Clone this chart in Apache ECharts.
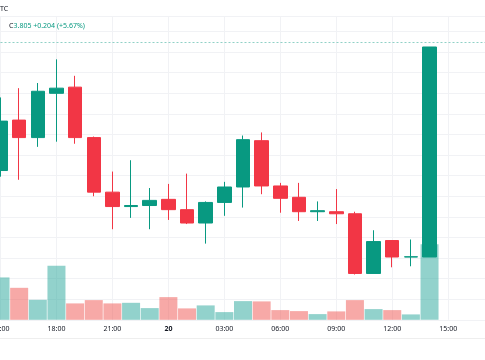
<!DOCTYPE html>
<html><head><meta charset="utf-8">
<script src="https://cdn.jsdelivr.net/npm/echarts@6/dist/echarts.min.js"></script>
<style>html,body{margin:0;padding:0;background:#fff}#c{width:485px;height:360px}</style>
</head><body><div id="c"></div>
<script>
// hourly candles, 19th 15:00 .. 20th 14:00
const hours = ['15:00','16:00','17:00','18:00','19:00','20:00','21:00','22:00','23:00','00:00','01:00','02:00',
  '03:00','04:00','05:00','06:00','07:00','08:00','09:00','10:00','11:00','12:00','13:00','14:00'];
const opens  = [3.685,3.734,3.717,3.760,3.766,3.717,3.664,3.650,3.651,3.657,3.647,3.634,
                3.654,3.669,3.714,3.670,3.659,3.645,3.645,3.643,3.585,3.617,3.601,3.601];
const closes = [3.733,3.717,3.762,3.765,3.717,3.664,3.650,3.651,3.656,3.647,3.634,3.654,
                3.669,3.715,3.670,3.658,3.645,3.646,3.643,3.585,3.616,3.601,3.6012,3.805];
const lows   = [3.679,3.676,3.708,3.713,3.711,3.660,3.628,3.639,3.628,3.637,3.633,3.614,
                3.641,3.649,3.662,3.644,3.636,3.636,3.633,3.584,3.585,3.591,3.592,3.601];
const highs  = [3.756,3.765,3.770,3.793,3.777,3.718,3.684,3.695,3.668,3.672,3.682,3.655,
                3.674,3.719,3.722,3.673,3.673,3.655,3.667,3.645,3.627,3.617,3.618,3.805];
const volumes = [4240,3200,2000,5400,1640,1970,1640,1700,1170,2270,1140,1440,
                 770,1870,1840,970,870,570,840,1970,1070,970,540,7570];
const tickLabels = ['15:00','18:00','21:00','20','03:00','06:00','09:00','12:00','15:00'];
const lastClose = 3.805;
const headerSymbol = 'TC';
const headerC = 'C';
const headerVals = '3.805 +0.204 (+5.67%)';

const UP = '#089981', DOWN = '#F23645';
const FONT = 'Noto Sans';
const GRIDC = '#f1f2f5';

const chart = echarts.init(document.getElementById('c'), null, {renderer: 'canvas'});
const candleData = hours.map((h, i) => [i, opens[i], closes[i], lows[i], highs[i]]);
const volData = hours.map((h, i) => ({
  value: [i, volumes[i]],
  itemStyle: {color: closes[i] >= opens[i] ? 'rgba(38,166,154,0.5)' : 'rgba(239,83,80,0.5)'}
}));

chart.setOption({
  animation: false,
  backgroundColor: '#ffffff',
  grid: {left: 0.5, right: -0.5, top: 16, bottom: 40.2, containLabel: false, outerBoundsMode: 'none'},
  xAxis: {
    type: 'value', min: 0, max: 26, interval: 3,
    axisLine: {show: false}, axisTick: {show: false},
    splitLine: {show: true, showMaxLine: false, lineStyle: {color: GRIDC, width: 1}},
    axisLabel: {
      show: true, showMinLabel: true, showMaxLabel: false, margin: 6,
      fontSize: 7, fontFamily: FONT, color: '#131722',
      formatter: function (v) {
        const k = Math.round(v / 3);
        if (Math.abs(v - k * 3) > 1e-6 || k >= tickLabels.length) return '';
        const t = tickLabels[k];
        return t === '20' ? '{b|' + t + '}' : t;
      },
      rich: {b: {fontSize: 7, fontWeight: 'bold', fontFamily: FONT, color: '#131722'}}
    }
  },
  yAxis: [{
    type: 'value', min: 3.54, max: 3.8351, interval: 0.02, scale: true,
    axisLine: {show: false}, axisTick: {show: false}, axisLabel: {show: false},
    splitLine: {show: true, lineStyle: {color: GRIDC, width: 1}}
  }, {
    type: 'value', min: 0, max: 30400, show: false,
    splitLine: {show: false}
  }],
  series: [{
    type: 'bar', yAxisIndex: 1, data: volData, barWidth: 18, z: 1,
    encode: {x: 0, y: 1}
  }, {
    type: 'candlestick', yAxisIndex: 0, data: candleData, barWidth: 14, z: 3,
    encode: {x: 0, y: [1, 2, 3, 4]},
    itemStyle: {color: UP, color0: DOWN, borderColor: UP, borderColor0: DOWN, borderWidth: 1},
    markLine: {
      silent: true, symbol: ['none', 'none'], label: {show: false},
      lineStyle: {color: 'rgba(8,153,129,0.45)', type: [2, 2], width: 1},
      data: [{yAxis: lastClose}]
    }
  }],
  graphic: [
    {type: 'text', left: 0, top: 5, style: {text: headerSymbol, font: '7px "Noto Sans"', fill: '#131722'}},
    {type: 'text', left: 9, top: 22, style: {text: headerC, font: '7px "Noto Sans"', fill: '#131722'}},
    {type: 'text', left: 13.5, top: 22, style: {text: headerVals, font: '7px "Noto Sans"', fill: UP}},
    {type: 'line', shape: {x1: 0, y1: 338.5, x2: 485, y2: 338.5}, style: {stroke: '#eeeeee', lineWidth: 1}}
  ]
});
</script></body></html>
